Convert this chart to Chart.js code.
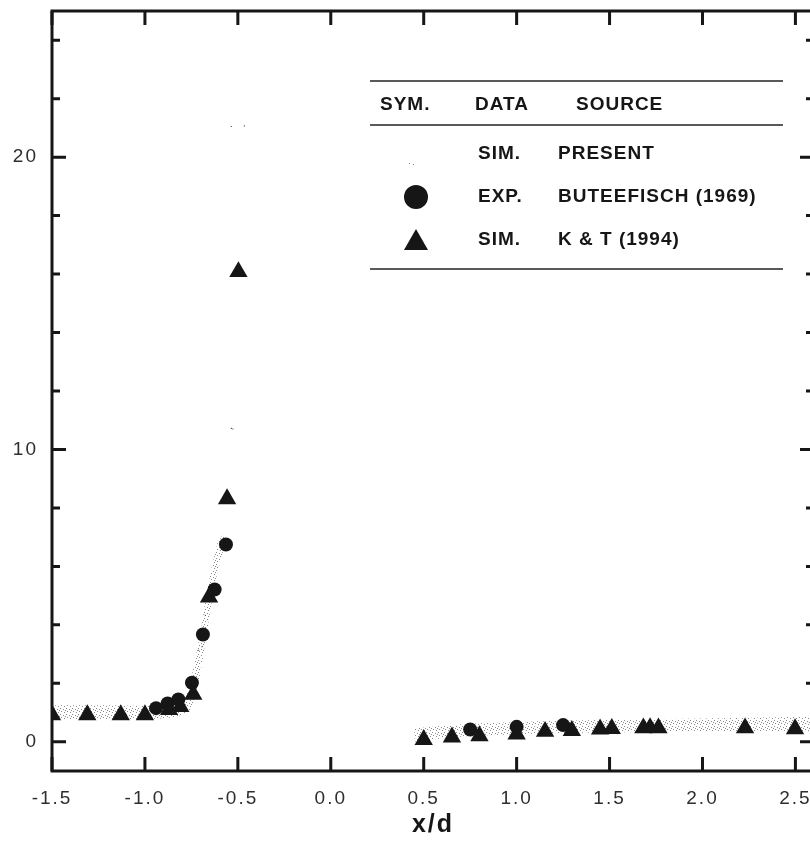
<!DOCTYPE html>
<html><head><meta charset="utf-8">
<script src="https://cdn.jsdelivr.net/npm/chart.js@4.4.1/dist/chart.umd.min.js"></script>
<style>html,body{margin:0;padding:0;background:#fff;overflow:hidden;width:810px;height:844px}canvas{display:block}</style>
</head><body><canvas id="c" width="830" height="844"></canvas>
<script>
// ---- tick labels ----
const xTicks=[-1.5,-1.0,-0.5,0.0,0.5,1.0,1.5,2.0,2.5];
const yTicks=[0,2,4,6,8,10,12,14,16,18,20,22,24];
const yLabelled=[0,10,20];
// ---- K & T (1994) simulation (triangles) ----
const ktX=[-1.5,-1.31,-1.13,-1.0,-0.87,-0.81,-0.74,-0.655,-0.558,-0.497,0.5,0.652,0.8,1.0,1.153,1.297,1.449,1.512,1.682,1.718,1.763,2.229,2.498];
const ktY=[0.92,0.92,0.92,0.92,1.1,1.2,1.62,4.95,8.31,16.08,0.07,0.16,0.2,0.26,0.35,0.38,0.43,0.45,0.47,0.48,0.47,0.47,0.44];
// ---- Buteefisch (1969) experiment (circles) ----
const butX=[-0.94,-0.878,-0.82,-0.747,-0.688,-0.625,-0.564,0.75,1.0,1.25];
const butY=[1.15,1.31,1.45,2.02,3.67,5.21,6.75,0.42,0.51,0.57];
// ---- present simulation: envelope of the stippled sample cloud ----
const presLX=[-1.5,-1.2,-1.0,-0.9,-0.8,-0.76,-0.73,-0.70,-0.67,-0.64,-0.61,-0.58,-0.56];
const presLLow=[0.78,0.78,0.78,0.8,0.88,1.05,1.5,2.4,3.6,4.8,5.8,6.5,6.9];
const presLHigh=[1.25,1.25,1.22,1.25,1.45,1.9,2.8,3.8,5.0,6.0,6.8,7.1,7.0];
const presRX=[0.45,0.6,0.75,1.0,1.25,1.5,1.75,2.0,2.25,2.5,2.6];
const presRLow=[0.0,0.12,0.2,0.26,0.3,0.32,0.33,0.33,0.33,0.33,0.33];
const presRHigh=[0.45,0.55,0.62,0.68,0.72,0.75,0.78,0.8,0.82,0.85,0.85];
// isolated present samples
const presDotX=[-0.535,-0.527,-0.535,-0.465,-0.711,-0.693,-0.675];
const presDotY=[10.72,10.7,21.05,21.07,3.13,3.25,4.33];
// ---- legend table text ----
const legendHeader=['SYM.','DATA','SOURCE'];
const legendData=['SIM.','EXP.','SIM.'];
const legendSource=['PRESENT','BUTEEFISCH (1969)','K & T (1994)'];

const pts=(xs,ys)=>xs.map((v,i)=>({x:v,y:ys[i]}));
const band=(xs,lo,hi)=>pts(xs,lo).concat(pts(xs,hi).reverse());

// stipple pattern (style only)
const tile=document.createElement('canvas');tile.width=6;tile.height=6;
const tg=tile.getContext('2d');tg.fillStyle='rgba(60,60,60,0.6)';
[[0,0],[3,1],[1,3],[4,4],[5,2]].forEach(([a,b])=>tg.fillRect(a,b,1,1));
const stipple=document.createElement('canvas').getContext('2d').createPattern(tile,'repeat');

const INK='#161616';
const FAM='"Liberation Sans", Arial, sans-serif';
const axisBox={id:'axisBox',beforeDatasetsDraw(chart){
  const {ctx,chartArea:a,scales:{x,y}}=chart;
  ctx.save();ctx.strokeStyle=INK;ctx.lineWidth=3;
  ctx.strokeRect(a.left,a.top,a.right-a.left,a.bottom-a.top);
  ctx.beginPath();
  xTicks.forEach(v=>{const p=x.getPixelForValue(v);ctx.moveTo(p,a.bottom);ctx.lineTo(p,a.bottom-14);ctx.moveTo(p,a.top);ctx.lineTo(p,a.top+14);});
  yTicks.forEach(v=>{const p=y.getPixelForValue(v);const L=yLabelled.includes(v)?14:8;ctx.moveTo(a.left,p);ctx.lineTo(a.left+L,p);ctx.moveTo(a.right,p);ctx.lineTo(a.right-L,p);});
  ctx.stroke();ctx.restore();}};
const spacing={id:'spacing',beforeUpdate(c){c.ctx.letterSpacing='2px';},beforeDraw(c){c.ctx.letterSpacing='2px';}};
const tableLegend={id:'tableLegend',afterDraw(chart){
  const ctx=chart.ctx;ctx.save();
  ctx.strokeStyle='#222';ctx.lineWidth=1.6;
  [81,125,269].forEach(yy=>{ctx.beginPath();ctx.moveTo(370,yy);ctx.lineTo(783,yy);ctx.stroke();});
  ctx.fillStyle=INK;ctx.font='bold 19px '+FAM;ctx.textBaseline='middle';ctx.letterSpacing='1px';
  const hx=[380,475,576];legendHeader.forEach((t,i)=>ctx.fillText(t,hx[i],105));
  const ry=[154,197,240];
  legendData.forEach((t,i)=>{ctx.fillText(t,478,ry[i]);ctx.fillText(legendSource[i],558,ry[i]);});
  ctx.fillStyle='rgba(60,60,60,0.7)';ctx.fillRect(409,163,1,1);ctx.fillRect(413,164,1,1);
  ctx.fillStyle=INK;
  Chart.helpers.drawPoint(ctx,{pointStyle:'circle',radius:12,rotation:0,borderWidth:0},416,197);
  Chart.helpers.drawPoint(ctx,{pointStyle:'triangle',radius:13.9,rotation:0,borderWidth:0},416,243);
  ctx.restore();}};

new Chart(document.getElementById('c'),{
  type:'scatter',
  data:{datasets:[
    {label:'K & T (1994)',data:pts(ktX,ktY),pointStyle:'triangle',pointRadius:10.6,backgroundColor:INK,borderWidth:0,order:1},
    {label:'BUTEEFISCH (1969)',data:pts(butX,butY),pointStyle:'circle',pointRadius:7,backgroundColor:INK,borderWidth:0,order:2},
    {label:'PRESENT',data:band(presLX,presLLow,presLHigh),showLine:true,fill:'shape',backgroundColor:stipple,borderWidth:0,pointRadius:0,order:3},
    {label:'PRESENT ',data:band(presRX,presRLow,presRHigh),showLine:true,fill:'shape',backgroundColor:stipple,borderWidth:0,pointRadius:0,order:3},
    {label:'PRESENT samples',data:pts(presDotX,presDotY),pointStyle:'rect',pointRadius:0.8,backgroundColor:'#555',borderWidth:0,order:3}
  ]},
  options:{
    responsive:false,animation:false,
    layout:{padding:{top:11,right:16,left:0,bottom:0}},
    plugins:{legend:{display:false},tooltip:{enabled:false}},
    scales:{
      x:{type:'linear',min:-1.5,max:2.6,
        afterBuildTicks:s=>{s.ticks=xTicks.map(v=>({value:v}));},
        afterFit:s=>{s.height=73;s.paddingLeft=0;s.paddingRight=0;},
        grid:{display:false,drawTicks:false},border:{display:false},
        ticks:{autoSkip:false,maxRotation:0,padding:16,color:'#2e2e2e',font:{family:FAM,size:19},callback:v=>v.toFixed(1)},
        title:{display:true,text:'x/d',color:INK,font:{family:FAM,size:25,weight:'bold'},padding:{top:0,bottom:4}}},
      y:{type:'linear',min:-1,max:25,
        afterBuildTicks:s=>{s.ticks=yTicks.map(v=>({value:v}));},
        afterFit:s=>{s.width=52;s.paddingTop=0;s.paddingBottom=0;},
        grid:{display:false,drawTicks:false},border:{display:false},
        ticks:{autoSkip:false,padding:14,color:'#2e2e2e',font:{family:FAM,size:19},callback:v=>yLabelled.includes(v)?String(v):''}}
    }
  },
  plugins:[spacing,axisBox,tableLegend]
});
</script></body></html>
